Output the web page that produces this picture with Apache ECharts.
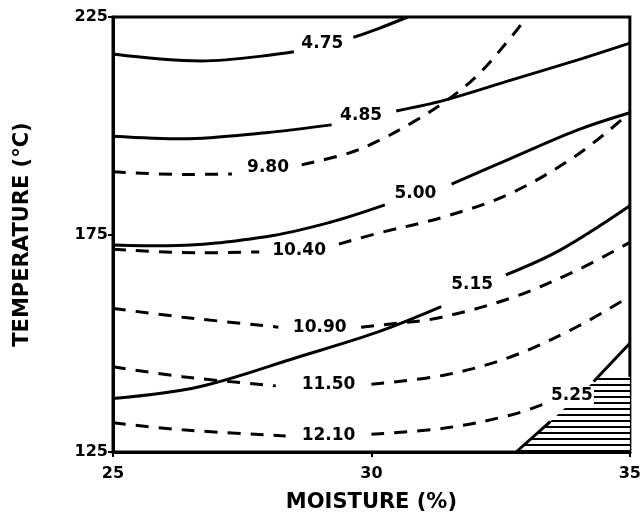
<!DOCTYPE html>
<html>
<head>
<meta charset="utf-8">
<script src="https://cdn.jsdelivr.net/npm/echarts@6/dist/echarts.min.js"></script>
<style>
html,body{margin:0;padding:0;background:#fff;}
#chart{width:644px;height:518px;}
</style>
</head>
<body>
<div id="chart"></div>
<script>
// Axis ranges and ticks
const xRange = [25, 35];
const yRange = [125, 225];
const xTickStep = 5;
const yTickStep = 50;
const xTitle = 'MOISTURE (%)';
const yTitle = 'TEMPERATURE (°C)';

// Solid contours (first response) – segments broken where the label sits
const c475 = [[25,216.5],[26.7,214.9],[28.5,217.0],'-',[29.65,220.3],[30.15,222.4],[30.7,225]];
const c485 = [[25,197.6],[26.35,197.0],[27.96,198.4],[29.23,200.2],'-',[30.48,203.4],[31.42,205.9],[32.7,210.5],[33.98,215.1],[35,219.0]];
const c500 = [[25,172.6],[26.03,172.4],[27.96,174.5],[29.2,177.8],[30.26,181.8],'-',[31.55,186.6],[32.7,192.5],[33.98,199.0],[35,203.0]];
const c515 = [[25,137.3],[26.67,140.0],[28.6,146.9],[30.13,152.6],[31.35,158.4],'-',[32.6,165.7],[33.65,171.4],[35,181.6]];
const c525 = [[32.8,125],[33.46,132],'-',[34.3,141.2],[35,150]];

// Dashed contours (second response)
const c980 = [[25,189.4],[26.35,188.8],[27.3,188.9],'-',[28.65,191],[29.56,193.7],[30.13,196.5],[30.77,200.6],[31.42,205.5],[32.06,211.7],[32.76,221.2],[33.0,225]];
const c1040 = [[25,171.6],[26.67,170.8],[27.83,171.0],'-',[29.37,172.8],[30.13,175.3],[31.42,179.1],[32.7,184.5],[33.98,193.3],[35,203.0]];
const c1090 = [[25,158.0],[26.35,156.0],[28.2,153.7],'-',[29.8,153.7],[30.5,154.6],[31.29,155.8],[32.7,160.4],[33.98,166.8],[35,173.2]];
const c1150 = [[25,144.6],[26.35,142.3],[28.15,140.2],'-',[30.0,140.6],[31.42,142.7],[32.7,146.9],[33.98,153.8],[35,160.8]];
const c1210 = [[25,131.7],[26.35,130.1],[28.34,128.7],'-',[30.0,129.1],[31.42,130.5],[32.7,133.5],[33.4,136.3]];

// Hatched optimum region (below the 5.25 contour)
const hatchRegion = [[32.8,125],[33.46,132],[34.4,142.3],[35,142.3]];

// Contour labels
const labelText = ['4.75','4.85','9.80','5.00','10.40','5.15','10.90','11.50','12.10','5.25'];
const labelX    = [29.05, 29.8, 28.0, 30.85, 28.6, 31.95, 29.0, 29.17, 29.17, 33.88];
const labelY    = [219.0, 202.3, 190.4, 184.5, 171.3, 163.4, 153.7, 140.4, 128.8, 137.9];

const FONT = '"DejaVu Sans", Verdana, sans-serif';

// stripe pattern for hatching
const pc = document.createElement('canvas');
pc.width = 8; pc.height = 6;
const pctx = pc.getContext('2d');
pctx.fillStyle = '#fff'; pctx.fillRect(0,0,8,6);
pctx.fillStyle = '#000'; pctx.fillRect(0,0,8,2);

function solid(data){
  return {type:'line', data:data, smooth:0.35, symbol:'none', connectNulls:false,
    lineStyle:{color:'#000', width:3, type:'solid'}, z:3, silent:true};
}
function dashed(data){
  return {type:'line', data:data, smooth:0.35, symbol:'none', connectNulls:false,
    lineStyle:{color:'#000', width:3, type:[13,10]}, z:3, silent:true};
}

const chart = echarts.init(document.getElementById('chart'), null, {renderer:'canvas'});
chart.setOption({
  animation:false,
  backgroundColor:'#fff',
  grid:{left:113, right:11, top:17, bottom:66, show:true, borderColor:'#000', borderWidth:3},
  xAxis:{
    type:'value', min:xRange[0], max:xRange[1], interval:xTickStep,
    name:xTitle, nameLocation:'middle', nameGap:40,
    nameTextStyle:{fontFamily:FONT, fontSize:21, fontWeight:'bold', color:'#000'},
    axisLine:{lineStyle:{color:'#000', width:3}},
    axisTick:{show:true, length:5, lineStyle:{color:'#000', width:2}},
    axisLabel:{fontFamily:FONT, fontSize:16, fontWeight:'bold', color:'#000', margin:14},
    splitLine:{show:false}
  },
  yAxis:{
    type:'value', min:yRange[0], max:yRange[1], interval:yTickStep,
    name:yTitle, nameLocation:'middle', nameGap:80,
    nameTextStyle:{fontFamily:FONT, fontSize:21, fontWeight:'bold', color:'#000'},
    axisLine:{lineStyle:{color:'#000', width:3}},
    axisTick:{show:true, length:5, lineStyle:{color:'#000', width:2}},
    axisLabel:{fontFamily:FONT, fontSize:16, fontWeight:'bold', color:'#000', margin:5},
    splitLine:{show:false}
  },
  series:[
    {type:'line', data:hatchRegion, symbol:'none', lineStyle:{width:0},
      areaStyle:{origin:'start', color:{image:pc, repeat:'repeat'}, opacity:1}, z:2, silent:true},
    solid(c475), solid(c485), solid(c500), solid(c515), solid(c525),
    dashed(c980), dashed(c1040), dashed(c1090), dashed(c1150), dashed(c1210),
    {type:'scatter', symbolSize:0.1, itemStyle:{color:'#000', opacity:1}, z:5, silent:true,
      data:labelText.map((t,i)=>({name:t, value:[labelX[i], labelY[i]]})),
      label:{show:true, position:'inside', formatter:'{b}', fontFamily:FONT, fontSize:17,
        fontWeight:'bold', color:'#000', textBorderWidth:0, backgroundColor:'#fff', padding:[0,1]}}
  ]
});
</script>
</body>
</html>
